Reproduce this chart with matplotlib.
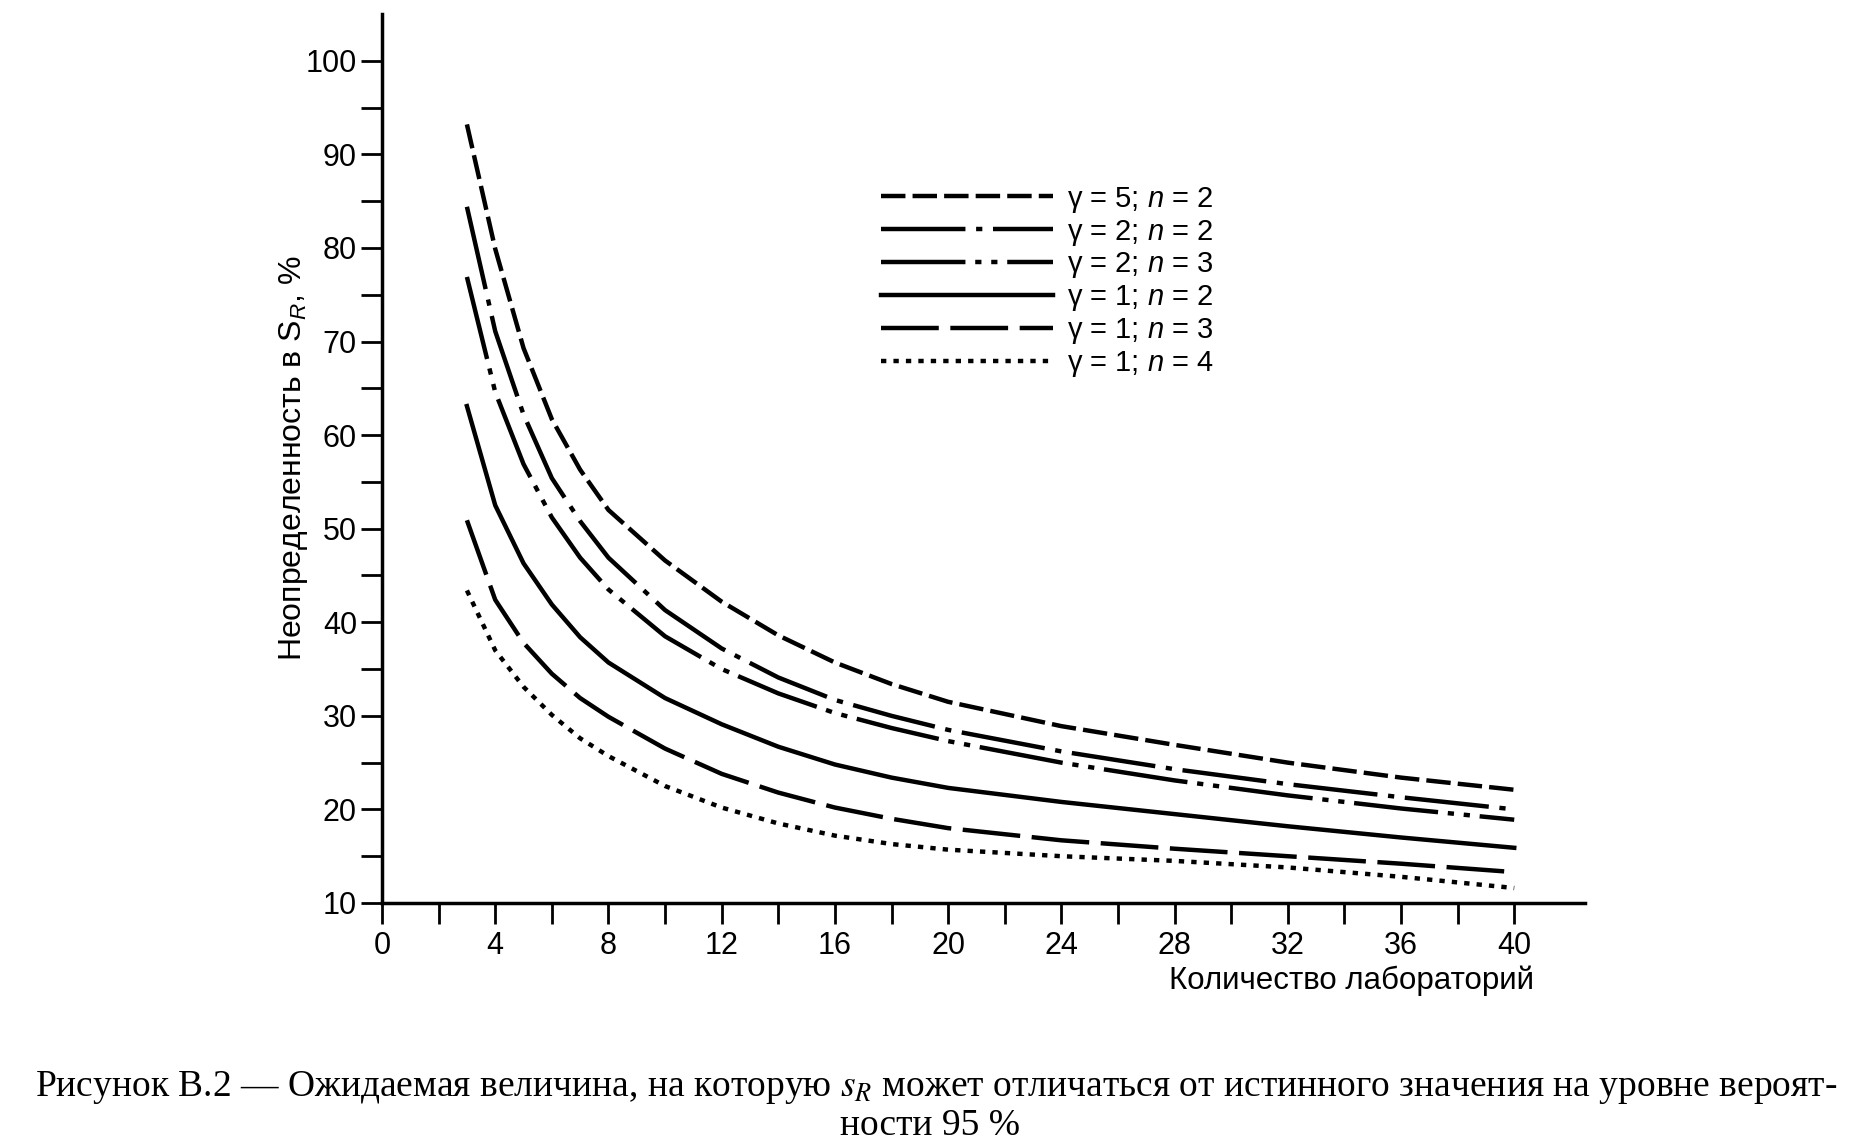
import numpy as np
import matplotlib
matplotlib.use('Agg')
import matplotlib.pyplot as plt

plt.rcParams['font.family'] = ['Liberation Sans', 'DejaVu Sans']
plt.rcParams['mathtext.fontset'] = 'custom'
plt.rcParams['mathtext.rm'] = 'Liberation Sans'
plt.rcParams['mathtext.it'] = 'Liberation Sans:italic'

# number of laboratories (x) and uncertainty in s_R, % (y)
labs = [3, 4, 5, 6, 7, 8, 10, 12, 14, 16, 18, 20, 24, 28, 32, 36, 40]
g5_n2 = [93.2, 79.9, 69.3, 61.7, 56.3, 52.0, 46.6, 42.2, 38.6, 35.7, 33.4, 31.5, 28.9, 26.9, 25.0, 23.4, 22.1]
g2_n2 = [84.4, 71.1, 62.2, 55.4, 50.8, 46.9, 41.3, 37.2, 34.1, 31.7, 30.0, 28.5, 26.2, 24.3, 22.7, 21.3, 20.0]
g2_n3 = [76.9, 64.6, 56.9, 51.2, 46.9, 43.5, 38.5, 35.0, 32.4, 30.3, 28.7, 27.3, 25.0, 23.1, 21.5, 20.1, 18.9]
g1_n2 = [63.1, 52.5, 46.3, 41.9, 38.4, 35.7, 31.9, 29.1, 26.7, 24.8, 23.4, 22.3, 20.8, 19.5, 18.2, 17.0, 15.9]
g1_n3 = [50.9, 42.4, 37.8, 34.5, 31.9, 29.9, 26.5, 23.8, 21.8, 20.2, 19.0, 18.0, 16.7, 15.8, 15.0, 14.2, 13.3]
g1_n4 = [43.4, 37.0, 33.1, 30.1, 27.6, 25.7, 22.5, 20.2, 18.5, 17.2, 16.3, 15.7, 15.0, 14.5, 13.8, 12.8, 11.6]

series = [g5_n2, g2_n2, g2_n3, g1_n2, g1_n3, g1_n4]
labels = ['γ = 5; $n$ = 2', 'γ = 2; $n$ = 2', 'γ = 2; $n$ = 3',
          'γ = 1; $n$ = 2', 'γ = 1; $n$ = 3', 'γ = 1; $n$ = 4']
dashes = [(5.5, 1.6), (19, 2.4, 1.4, 2.4), (19, 2.2, 1.4, 2.2, 1.4, 2.2),
          None, (13, 2.6), (1.2, 1.6)]

W, H = 1872, 1146
fig = plt.figure(figsize=(W / 100, H / 100), dpi=100)
ax = fig.add_axes([382 / W, 1 - 903 / H, (1585 - 382) / W, (903 - 14) / H])

for ys, lab, d in zip(series, labels, dashes):
    if d is None:
        ax.plot(labs, ys, color='black', lw=3.2, label=lab)
    else:
        ax.plot(labs, ys, color='black', lw=3.2, dashes=d, label=lab)

ax.set_xlim(0, 42.5)
ax.set_ylim(10, 105)
for s in ['top', 'right']:
    ax.spines[s].set_visible(False)
for s in ['left', 'bottom']:
    ax.spines[s].set_linewidth(2.5)

yt = np.arange(10, 101, 5)
ax.set_yticks(yt)
ax.set_yticklabels([str(v) if v % 10 == 0 else '' for v in yt])
xt = np.arange(0, 41, 2)
ax.set_xticks(xt)
ax.set_xticklabels([str(v) if v % 4 == 0 else '' for v in xt])
ax.tick_params(direction='out', length=15, width=2, labelsize=22, pad=3)
ax.tick_params(axis='x', pad=5)

ax.text(0.958, -0.088, 'Количество лабораторий', transform=ax.transAxes,
        ha='right', va='center', fontsize=22.5)
ax.set_ylabel('Неопределенность в $\\mathrm{S}_{R}$, %', fontsize=23)
ax.yaxis.set_label_coords(-0.06, 0.5)

ax.legend(loc='upper left', bbox_to_anchor=(866 / W, 1 - 170 / H),
          bbox_transform=fig.transFigure, frameon=False, fontsize=21,
          handlelength=5.9, handletextpad=0.48, labelspacing=0.1, borderpad=0)

cap1 = ('Рисунок В.2 — Ожидаемая величина, на которую $s_R$ может отличаться '
        'от истинного значения на уровне вероят-')
cap2 = 'ности 95 %'
fig.text(0.5, 1 - 1088 / H, cap1, ha='center', va='center', fontsize=27,
         family='Liberation Serif', math_fontfamily='stix')
fig.text(0.497, 1 - 1126 / H, cap2, ha='center', va='center', fontsize=27,
         family='Liberation Serif', math_fontfamily='stix')

fig.savefig('out.png', dpi=100)
